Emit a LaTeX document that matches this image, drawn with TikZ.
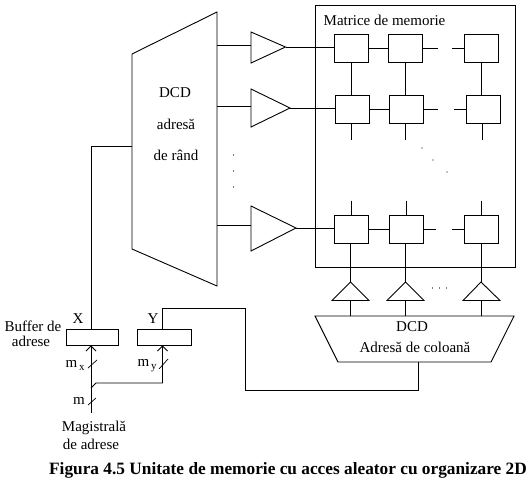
\documentclass[tikz,border=0pt]{standalone}
\usepackage{fontspec}
\setmainfont{Liberation Serif}
\usetikzlibrary{calc,arrows.meta}
\newcommand{\subs}[1]{{\fontsize{11}{11}\selectfont\,\raisebox{-3pt}{#1}}}
\tikzset{
	wire/.style={draw=black,line width=0.9pt},
	busarrow/.style={-{Straight Barb[length=5pt,width=10pt]},draw=black,line width=0.9pt},
	cell/.style={draw=black,line width=0.9pt,minimum width=34pt,minimum height=28pt,inner sep=0pt},
	bufbox/.style={draw=black,line width=0.9pt,minimum height=16pt,inner sep=0pt},
	lbl/.style={font=\fontsize{15}{15}\selectfont,inner sep=0pt},
	spot/.style={circle,fill=black,inner sep=0pt,minimum size=1.4pt}
}
\begin{document}
\begin{tikzpicture}[x=1pt,y=-1pt]
			\useasboundingbox (0,0) rectangle (530,480);
			\draw[wire] (132,54) -- (217,12) -- (217,286) -- (132,249) -- cycle;
			\draw[wire] (315,5) rectangle (515,267);
			\draw[wire] (315,316) -- (514,316) -- (491,362) -- (338,362) -- cycle;
			\node[lbl] (dcdrow) at (175,93) {DCD};
			\node[lbl] (adrrow) at (176,124) {adresă};
			\node[lbl] (derow) at (176,155) {de rând};
			\node[lbl] (matlabel) at (384.5,20) {Matrice de memorie};
			\node[lbl] (dcdcol) at (412,326.5) {DCD};
			\node[lbl] (adrcol) at (415,347) {Adresă de coloană};
			\foreach \n/\x/\y in {11/351/48,12/405/48,13/481.5/48,
				21/352/109,22/406/109,23/483/109,
				31/351/229,32/406/229,33/481/229}
			\node[cell] (c\n) at (\x,\y) {};
			\foreach \n/\ya/\yb/\ym/\yi/\xt in {1/32/63/47/45/285.5,2/89/127/108/106/290,3/206/251/228/225/296} {
				\coordinate (amp\n) at (\xt,\ym);
				\coordinate (ain\n) at (251,\yi);
				\coordinate (dout\n) at (217,\yi);
				\draw[wire] (251,\ya) -- (amp\n) -- (251,\yb) -- cycle;
				\draw[wire] (dout\n) -- (ain\n);
				\draw[wire] (amp\n) -- (amp\n -| c\n1.west);
			}
			\foreach \a/\b in {11/12,21/22,31/32}
			\draw[wire] (c\a.east) -- (c\b.west);
			\foreach \n/\l/\r in {12/438/452,22/438/454,32/436/452} {
				\coordinate (sl\n) at (\l,0);
				\coordinate (sr\n) at (\r,0);
				\draw[wire] (c\n.east) -- (c\n.east -| sl\n);
			}
			\draw[wire] (sr12 |- c13.west) -- (c13.west);
			\draw[wire] (sr22 |- c23.west) -- (c23.west);
			\draw[wire] (sr32 |- c33.west) -- (c33.west);
			\foreach \a/\b in {11/21,12/22,13/23}
			\draw[wire] (c\a.south) -- (c\a.south |- c\b.north);
			\foreach \n in {21,22,23} {
				\coordinate (dn\n) at ($(c\n.south)+(-1,17)$);
				\draw[wire] (dn\n |- c\n.south) -- (dn\n);
			}
			\foreach \n in {31,32,33} {
				\coordinate (up\n) at ($(c\n.north)+(0,-14)$);
				\draw[wire] (up\n) -- (c\n.north);
			}
			\foreach \n/\x/\xa/\xb in {31/350.5/332/369,32/405.5/387/424,33/481/463/500} {
				\coordinate (tip\n) at (\x,282);
				\coordinate (base\n) at (\x,300.5);
				\coordinate (foot\n) at (\x,316);
				\draw[wire] (\xa,300.5) -- (tip\n) -- (\xb,300.5) -- cycle;
				\draw[wire] (c\n.south -| tip\n) -- (tip\n);
				\draw[wire] (base\n) -- (foot\n);
			}
			\foreach \z in {(233.5,155),(233.5,171),(233.5,187),(422,148),(433,160),(447,172),
				(432.5,288),(439.5,288),(446.5,288)}
			\node[spot] at \z {};
			\node[bufbox,minimum width=52pt] (bufx) at (92,337) {};
			\node[bufbox,minimum width=54pt] (bufy) at (164,337) {};
			\coordinate (busin) at (91,413);
			\coordinate (bustap) at (91,388);
			\coordinate (rowin) at (132,146);
			\coordinate (ytop) at (162.5,308);
			\coordinate (ylow) at (245.5,390);
			\coordinate (colout) at (418,362);
			\draw[wire] (busin |- bufx.north) -- (busin |- rowin) -- (rowin);
			\draw[wire] (ytop |- bufy.north) -- (ytop) -| (ylow) -- (ylow -| colout) -- (colout);
			\draw[busarrow] (busin) -- (busin |- bufx.south);
			\draw[busarrow] (bustap) -- ++(5,-5) -| (ytop |- bufy.south);
			\foreach \xa/\ya/\xb/\yb in {88/368/97/360,88/405/96/398,159/369/168/359}
			\draw[line width=0.7pt] (\xa,\ya) -- (\xb,\yb);
			\node[lbl] (xname) at (78,319) {X};
			\node[lbl] (yname) at (153,319) {Y};
			\node[lbl] (buflabel) at (33,326.5) {Buffer de};
			\node[lbl] (buflabelb) at (31,341) {adrese};
			\node[lbl] (mxlabel) at (75,365) {m\subs{x}};
			\node[lbl] (mylabel) at (147,366) {m\subs{y}};
			\node[lbl] (mlabel) at (79,401) {m};
			\node[lbl] (buslabel) at (94,428) {Magistrală};
			\node[lbl] (buslabelb) at (91,444) {de adrese};
			\node[font=\fontsize{17.3}{17}\selectfont\bfseries,inner sep=0pt] (caption) at (288,470.5) {Figura 4.5 Unitate de memorie cu acces aleator cu organizare 2D};
		\end{tikzpicture}
\end{document}
